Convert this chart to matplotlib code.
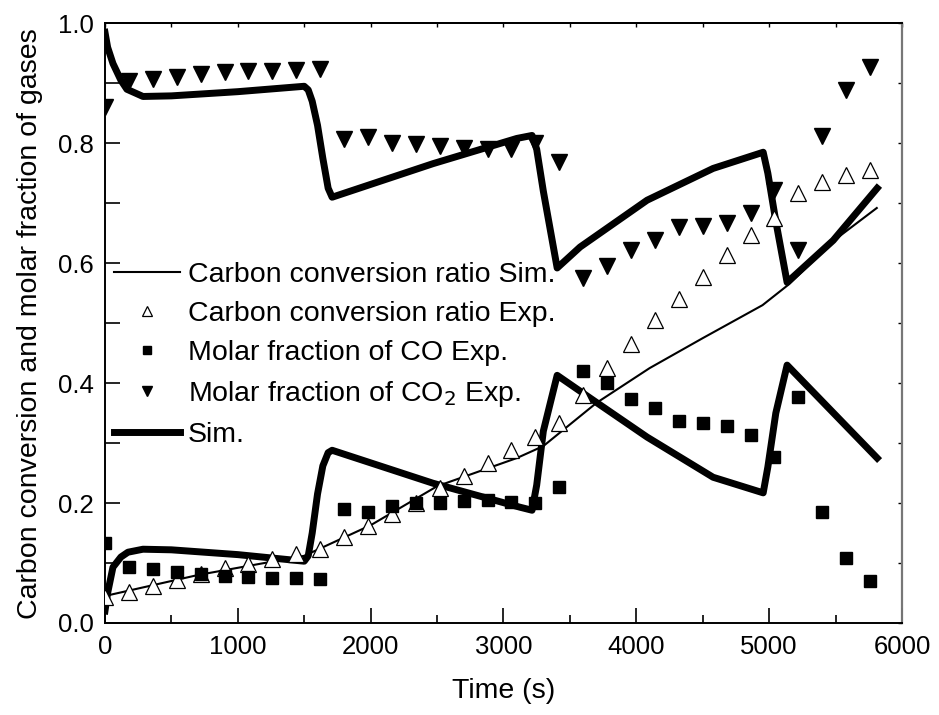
import matplotlib
matplotlib.use("Agg")
import matplotlib.pyplot as plt
from matplotlib.ticker import MultipleLocator, FormatStrFormatter, NullFormatter

plt.rcParams["font.family"] = ["Liberation Sans", "DejaVu Sans"]

# experimental sampling times (s)
t_exp = [180 * k for k in range(33)]

conv_exp = [0.043, 0.052, 0.062, 0.072, 0.082, 0.092, 0.098, 0.107, 0.115, 0.123,
            0.143, 0.162, 0.182, 0.200, 0.225, 0.245, 0.267, 0.288, 0.310, 0.333,
            0.380, 0.425, 0.465, 0.505, 0.540, 0.577, 0.613, 0.647, 0.675, 0.717,
            0.735, 0.747, 0.755]

co_exp = [0.133, 0.093, 0.090, 0.085, 0.082, 0.078, 0.077, 0.075, 0.075, 0.073,
          0.190, 0.185, 0.195, 0.200, 0.200, 0.203, 0.205, 0.202, 0.200, 0.227,
          0.420, 0.400, 0.373, 0.358, 0.337, 0.333, 0.328, 0.313, 0.277, 0.377,
          0.185, 0.108, 0.070]

co2_exp = [0.860, 0.903, 0.907, 0.910, 0.915, 0.918, 0.920, 0.920, 0.922, 0.923,
           0.807, 0.810, 0.800, 0.798, 0.795, 0.792, 0.790, 0.790, 0.800, 0.768,
           0.575, 0.595, 0.622, 0.638, 0.660, 0.662, 0.667, 0.683, 0.722, 0.622,
           0.812, 0.888, 0.927]

# simulated carbon conversion ratio
t_conv_sim = [0, 200, 700, 1500, 2000, 2500, 3100, 3300, 3700, 4100, 4500, 4950, 5150, 5500, 5810]
conv_sim = [0.045, 0.055, 0.080, 0.112, 0.163, 0.228, 0.275, 0.295, 0.367, 0.425, 0.475, 0.530, 0.565, 0.640, 0.692]

# simulated CO2 molar fraction
t_co2_sim = [0, 20, 60, 120, 165, 286, 500, 1000, 1500, 1530, 1560, 1600, 1640, 1680, 1710,
             2470, 3100, 3215, 3250, 3300, 3404, 3577, 4081, 4578, 4955, 4990, 5050, 5135, 5482, 5813]
co2_sim = [0.985, 0.960, 0.933, 0.905, 0.890, 0.878, 0.879, 0.886, 0.895, 0.889, 0.870, 0.830, 0.775, 0.725, 0.710,
           0.766, 0.808, 0.813, 0.790, 0.720, 0.592, 0.627, 0.705, 0.758, 0.785, 0.750, 0.670, 0.568, 0.638, 0.725]

# simulated CO molar fraction
t_co_sim = [0, 20, 60, 120, 173, 286, 500, 1000, 1500, 1530, 1560, 1600, 1640, 1680, 1710,
            2470, 3125, 3215, 3250, 3300, 3404, 3705, 4081, 4578, 4955, 4990, 5050, 5135, 5813]
co_sim = [0.020, 0.050, 0.093, 0.110, 0.118, 0.123, 0.122, 0.114, 0.103, 0.112, 0.150, 0.215, 0.262, 0.284, 0.288,
          0.233, 0.193, 0.188, 0.230, 0.320, 0.413, 0.367, 0.310, 0.243, 0.217, 0.260, 0.350, 0.430, 0.275]

fig = plt.figure(figsize=(9.39, 7.15), dpi=100)
ax = fig.add_axes([0.1118, 0.1287, 0.8488, 0.8387])

ax.plot(t_conv_sim, conv_sim, color="black", lw=1.5, label="Carbon conversion ratio Sim.", zorder=2)
ax.plot(t_co2_sim, co2_sim, color="black", lw=5, solid_joinstyle="round", zorder=2)
sim_line, = ax.plot(t_co_sim, co_sim, color="black", lw=5, solid_joinstyle="round", zorder=2)

ax.plot(t_exp, conv_exp, ls="none", marker="^", ms=11, mfc="white", mec="black", mew=0.9,
        label="Carbon conversion ratio Exp.", zorder=3)
ax.plot(t_exp, co_exp, ls="none", marker="s", ms=8.5, color="black",
        label="Molar fraction of CO Exp.", zorder=3)
ax.plot(t_exp, co2_exp, ls="none", marker="v", ms=11, color="black",
        label="Molar fraction of CO$_2$ Exp.", zorder=3)
sim_line.set_label("Sim.")

handles, labels = ax.get_legend_handles_labels()
order = [labels.index(l) for l in ["Carbon conversion ratio Sim.", "Carbon conversion ratio Exp.",
                                   "Molar fraction of CO Exp.", "Molar fraction of CO$_2$ Exp.", "Sim."]]
ax.legend([handles[i] for i in order], [labels[i] for i in order],
          loc="upper left", bbox_to_anchor=(-0.01, 0.63), frameon=False, fontsize=20.5,
          handlelength=2.3, handletextpad=0.3, labelspacing=0.45, markerscale=0.7,
          borderaxespad=0.2)

ax.set_xlim(0, 6000)
ax.set_ylim(0, 1.0)
ax.xaxis.set_major_locator(MultipleLocator(1000))
ax.xaxis.set_minor_locator(MultipleLocator(500))
ax.yaxis.set_major_locator(MultipleLocator(0.2))
ax.yaxis.set_minor_locator(MultipleLocator(0.1))
ax.yaxis.set_major_formatter(FormatStrFormatter("%.1f"))

ax.tick_params(which="both", direction="in", labelsize=18.5, width=1.2)
ax.tick_params(axis="x", which="major", length=11, pad=9)
ax.tick_params(axis="x", which="minor", length=6)
ax.tick_params(axis="y", which="both", length=11, pad=8)

# short ticks on top and right
top = ax.secondary_xaxis("top")
top.xaxis.set_major_locator(MultipleLocator(500))
top.xaxis.set_major_formatter(NullFormatter())
top.tick_params(direction="in", length=3, width=1.0)
right = ax.secondary_yaxis("right")
right.yaxis.set_major_locator(MultipleLocator(0.1))
right.yaxis.set_major_formatter(NullFormatter())
right.tick_params(direction="in", length=3, width=1.0)
right.spines["right"].set_color("#777777")
right.spines["right"].set_linewidth(1.6)
top.spines["top"].set_linewidth(1.4)

for s in ax.spines.values():
    s.set_linewidth(1.4)
ax.spines["right"].set_color("#777777")

ax.set_xlabel("Time (s)", fontsize=20.5, labelpad=13)
ax.set_ylabel("Carbon conversion and molar fraction of gases", fontsize=20.5, labelpad=11)

fig.savefig("out.png", dpi=100)
